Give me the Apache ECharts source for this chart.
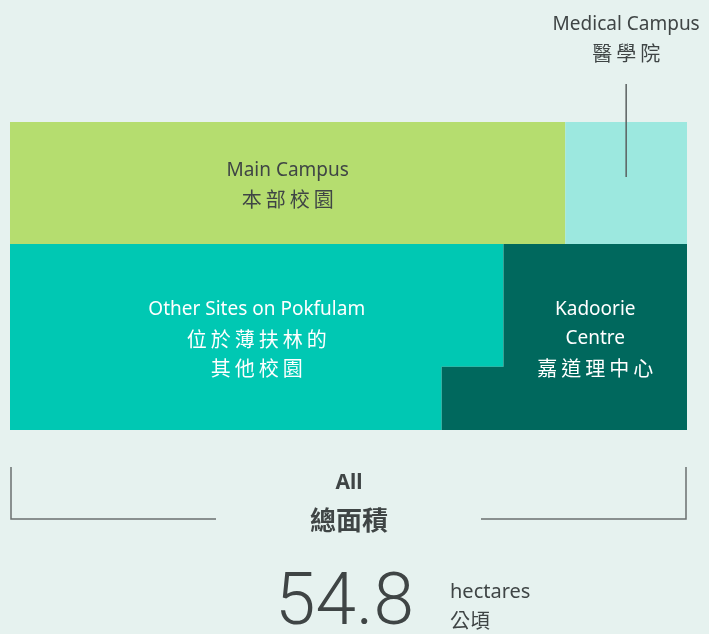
<!DOCTYPE html>
<html>
<head>
<meta charset="utf-8">
<script src="https://cdn.jsdelivr.net/npm/echarts@6/dist/echarts.min.js"></script>
<style>
  html, body { margin: 0; padding: 0; background: #e6f2ef; }
  #chart { width: 709px; height: 634px; }
</style>
</head>
<body>
<div id="chart"></div>
<script>
// areas in hectares
const siteNames = ["Main Campus", "Medical Campus", "Other Sites on Pokfulam", "Kadoorie Centre"];
const siteNamesZh = ["本部校園", "醫學院", "位於薄扶林的\n其他校園", "嘉道理中心"];
const siteLabels = ["Main Campus", "Medical Campus", "Other Sites on Pokfulam", "Kadoorie\nCentre"];
const hectares = [17.8, 3.9, 23.1, 10.0];
const siteColors = ["#b5dd6f", "#9ce8df", "#00c8b3", "#00685d"];

let chartDom = document.getElementById("chart");
let myChart = echarts.init(chartDom, null, { renderer: "canvas" });

const total = hectares.reduce((a, b) => a + b, 0);
const topRow = hectares[0] + hectares[1];
const bottomRow = hectares[2] + hectares[3];
const mainW = hectares[0] / topRow;
// Kadoorie block steps out at the bottom
const stepFrac = 0.34;
const stepRatio = 1.337;
const kadUpperW = hectares[3] / (bottomRow * ((1 - stepFrac) + stepRatio * stepFrac));
const kadLowerW = kadUpperW * stepRatio;
const stepY = bottomRow * stepFrac;

function shapeOf(i) {
  if (i === 0) return [[0, total], [mainW, total], [mainW, bottomRow], [0, bottomRow]];
  if (i === 1) return [[mainW, total], [1, total], [1, bottomRow], [mainW, bottomRow]];
  if (i === 2) return [[0, bottomRow], [1 - kadUpperW, bottomRow], [1 - kadUpperW, stepY],
                       [1 - kadLowerW, stepY], [1 - kadLowerW, 0], [0, 0]];
  return [[1 - kadUpperW, bottomRow], [1, bottomRow], [1, 0], [1 - kadLowerW, 0],
          [1 - kadLowerW, stepY], [1 - kadUpperW, stepY]];
}

const latin = "'Noto Sans', sans-serif";
const cjk = "'Noto Sans CJK TC', sans-serif";

function labelRich(color) {
  return {
    en: { fontFamily: latin, fontSize: 19, fill: color, lineHeight: 29, align: "center" },
    zh: { fontFamily: cjk, fontSize: 20, fill: color, lineHeight: 29, align: "center" },
  };
}

// spread the CJK glyphs a little, like the original lettering
function spaced(s) {
  return s.split("").join("\u2009");
}

function labelText(i) {
  const en = siteLabels[i].split("\n").map(s => "{en|" + s + "}");
  const zh = siteNamesZh[i].split("\n").map(s => "{zh|" + spaced(s) + "}");
  return en.concat(zh).join("\n");
}

function renderItem(params, api) {
  const i = api.value(0);
  const pts = shapeOf(i).map(p => api.coord(p));
  let anchor, color = "#ffffff";
  if (i === 0) {
    anchor = api.coord([mainW / 2, (total + bottomRow) / 2]);
    color = "#3f4545";
  } else if (i === 1) {
    const top = api.coord([(mainW + 1) / 2, total]);
    anchor = [top[0], top[1] - 85];
    color = "#3f4545";
  } else if (i === 2) {
    anchor = api.coord([(1 - kadUpperW) / 2, bottomRow / 2]);
  } else {
    anchor = api.coord([1 - kadUpperW / 2, bottomRow / 2]);
  }
  const children = [
    {
      type: "polygon",
      shape: { points: pts },
      style: { fill: siteColors[i] },
    },
    {
      type: "text",
      x: anchor[0],
      y: anchor[1] + 2,
      z2: 10,
      style: {
        text: labelText(i),
        rich: labelRich(color),
        fill: color,
        align: "center",
        verticalAlign: "middle",
      },
    },
  ];
  if (i === 1) {
    const top = api.coord([(mainW + 1) / 2, total]);
    children.push({
      type: "line",
      z2: 10,
      shape: { x1: top[0], y1: top[1] - 38, x2: top[0], y2: top[1] + 55 },
      style: { stroke: "#5a6060", lineWidth: 1.5 },
    });
  }
  return { type: "group", children: children };
}

const seriesData = hectares.map((v, i) => ({ name: siteNames[i], value: [i, v] }));

const bracketColor = "#6b7070";

const option = {
  backgroundColor: "#e6f2ef",
  animation: false,
  grid: { left: 10, right: 22, top: 122, bottom: 204 },
  xAxis: { type: "value", min: 0, max: 1, show: false },
  yAxis: { type: "value", min: 0, max: total, show: false },
  series: [{
    type: "custom",
    renderItem: renderItem,
    data: seriesData,
    encode: { x: -1, y: -1 },
  }],
  graphic: [
    {
      type: "polyline",
      shape: { points: [[11, 467], [11, 519], [216, 519]] },
      style: { stroke: bracketColor, lineWidth: 1.5, fill: null },
    },
    {
      type: "polyline",
      shape: { points: [[481, 519], [686, 519], [686, 467]] },
      style: { stroke: bracketColor, lineWidth: 1.5, fill: null },
    },
    {
      type: "text", x: 349, y: 483,
      style: { text: "All", fontFamily: latin, fontWeight: "bold", fontSize: 21,
               fill: "#3f4545", align: "center", verticalAlign: "middle" },
    },
    {
      type: "text", x: 349, y: 520,
      style: { text: "總面積", fontFamily: cjk, fontWeight: "bold", fontSize: 26,
               fill: "#3f4545", align: "center", verticalAlign: "middle" },
    },
    {
      type: "text", x: 414, y: 606,
      style: { text: total.toFixed(1), fontFamily: "Roboto, sans-serif", fontWeight: 300,
               fontSize: 73, fill: "#3f4545", align: "right", verticalAlign: "middle" },
    },
    {
      type: "text", x: 450, y: 592,
      style: { text: "hectares", fontFamily: latin, fontSize: 20,
               fill: "#3f4545", align: "left", verticalAlign: "middle" },
    },
    {
      type: "text", x: 450, y: 620,
      style: { text: "公頃", fontFamily: cjk, fontSize: 20,
               fill: "#3f4545", align: "left", verticalAlign: "middle" },
    },
  ],
};

myChart.setOption(option);
</script>
</body>
</html>
